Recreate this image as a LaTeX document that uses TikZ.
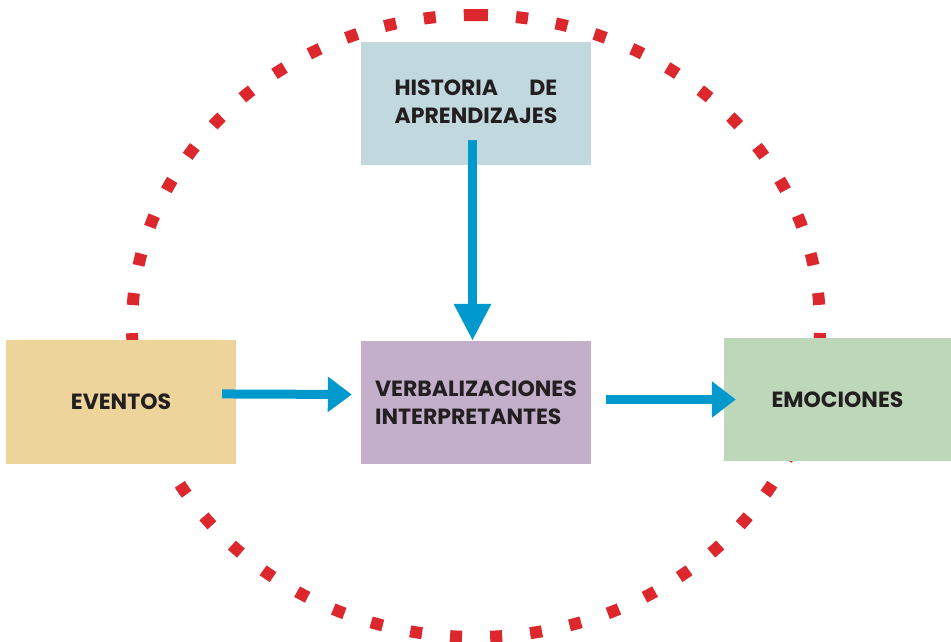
\documentclass[tikz,border=0pt]{standalone}
\usepackage{fontspec}
\setmainfont{Poppins}
\usetikzlibrary{arrows.meta}
\definecolor{histc}{RGB}{193,217,222}
\definecolor{evc}{RGB}{237,212,155}
\definecolor{verc}{RGB}{196,175,203}
\definecolor{emoc}{RGB}{189,215,185}
\definecolor{arrc}{RGB}{0,153,206}
\definecolor{dotc}{RGB}{220,40,45}
\definecolor{txtc}{RGB}{35,31,32}
\tikzset{
  box/.style={rectangle, draw=none, inner sep=0pt, text=txtc,
    font=\fontsize{22}{28}\selectfont\bfseries},
  arr/.style={draw=arrc, line width=9pt},
  dotring/.style={draw=dotc, line width=12pt, dash pattern=on 12pt off 28.14pt}
}
\begin{document}
\begin{tikzpicture}[x=1pt,y=-1pt]
\useasboundingbox (0,0) rectangle (951,641);
% dotted ring
\coordinate (ringtop) at (476,15);
\draw[dotring] (ringtop) arc[start angle=90, end angle=-270, x radius=344pt, y radius=311pt];
% boxes
\node[box, fill=histc, minimum width=230pt, minimum height=123pt] (hist) at (476,103.5)
  {\begin{tabular}{@{}l@{}}HISTORIA\hfill DE\\APRENDIZAJES\end{tabular}};
\node[box, fill=evc, minimum width=230pt, minimum height=124pt] (ev) at (121,402) {EVENTOS};
\node[box, fill=verc, minimum width=230pt, minimum height=123pt, align=left] (ver) at (476,402.5)
  {VERBALIZACIONES\\INTERPRETANTES};
\node[box, fill=emoc, minimum width=227pt, minimum height=123pt] (emo) at (837.5,399.5) {EMOCIONES};
% arrows
\draw[arr, -{Triangle[length=37pt,width=35pt]}, shorten <=-25pt]
  ([xshift=-3.5pt]hist.south) -- ([xshift=-3.5pt]ver.north);
\draw[arr, -{Triangle[length=24pt,width=34pt]}, shorten <=-14pt, shorten >=9pt]
  ([yshift=8pt]ev.east) -- ([yshift=8pt]ver.west);
\draw[arr, -{Triangle[length=24pt,width=35pt]}, shorten <=15pt, shorten >=-12pt]
  ([yshift=3pt]ver.east) -- ([yshift=3pt]ver.east -| emo.west);
\end{tikzpicture}
\end{document}
